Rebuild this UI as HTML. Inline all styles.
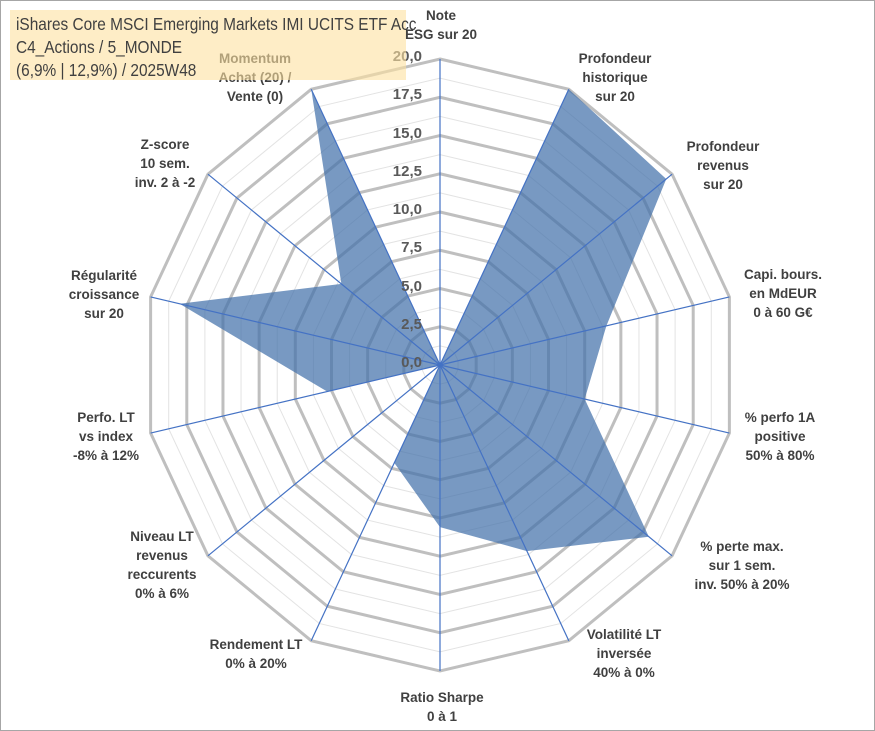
<!DOCTYPE html>
<html><head><meta charset="utf-8"><style>
body{margin:0;background:#fff;}
#wrap{position:relative;width:875px;height:731px;overflow:hidden;font-family:"Liberation Sans",sans-serif;}
.frame{position:absolute;left:0;top:0;width:873px;height:729px;border:1px solid #a6a6a6;}
.lbl{position:absolute;font-weight:bold;font-size:13.5px;color:#404040;text-align:center;line-height:19px;white-space:nowrap;transform:translateX(-50%);}
.tick{position:absolute;font-weight:bold;font-size:15px;color:#595959;text-align:right;width:50px;}
#title{position:absolute;left:10px;top:10px;width:396px;height:70px;background:rgba(253,225,160,0.6);}
#titletext{position:absolute;left:16px;top:13px;font-size:17.5px;color:#404040;line-height:23px;white-space:nowrap;transform:scaleX(0.88);transform-origin:0 0;}
</style></head><body>
<div id="wrap">
<div class="frame"></div>
<svg id="svg" width="875" height="731" style="position:absolute;left:0;top:0"></svg>
<div class="lbl" style="left:441px;top:6px">Note<br>ESG sur 20</div>
<div class="lbl" style="left:615px;top:49px">Profondeur<br>historique<br>sur 20</div>
<div class="lbl" style="left:723px;top:137px">Profondeur<br>revenus<br>sur 20</div>
<div class="lbl" style="left:783px;top:265px">Capi. bours.<br>en MdEUR<br>0 à 60 G€</div>
<div class="lbl" style="left:780px;top:408px">% perfo 1A<br>positive<br>50% à 80%</div>
<div class="lbl" style="left:742px;top:537px">% perte max.<br>sur 1 sem.<br>inv. 50% à 20%</div>
<div class="lbl" style="left:624px;top:625px">Volatilité LT<br>inversée<br>40% à 0%</div>
<div class="lbl" style="left:442px;top:688px">Ratio Sharpe<br>0 à 1</div>
<div class="lbl" style="left:256px;top:635px">Rendement LT<br>0% à 20%</div>
<div class="lbl" style="left:162px;top:527px">Niveau LT<br>revenus<br>reccurents<br>0% à 6%</div>
<div class="lbl" style="left:106px;top:408px">Perfo. LT<br>vs index<br>-8% à 12%</div>
<div class="lbl" style="left:104px;top:266px">Régularité<br>croissance<br>sur 20</div>
<div class="lbl" style="left:165px;top:135px">Z-score<br>10 sem.<br>inv. 2 à -2</div>
<div class="lbl" style="left:255px;top:49px">Momentum<br>Achat (20) /<br>Vente (0)</div>
<div id="ticks"></div>
<div id="title"></div>
<div id="titletext">iShares Core MSCI Emerging Markets IMI UCITS ETF Acc<br>C4_Actions / 5_MONDE<br>(6,9% | 12,9%) / 2025W48</div>
</div>
<script>
const categories=["Note ESG","Profondeur historique","Profondeur revenus","Capi","Perfo 1A","Perte max","Volatilité","Ratio Sharpe","Rendement LT","Niveau LT","Perfo LT","Régularité","Z-score","Momentum"];
const seriesValues=[0,20,19.5,11.5,10,18,13.5,10.6,7.1,0,7.8,18,8.5,20];
const tickValues=[0,2.5,5,7.5,10,12.5,15,17.5,20];
const tickLabels=["0,0","2,5","5,0","7,5","10,0","12,5","15,0","17,5","20,0"];
const CX=440,CY=365,R=306,MAX=20;
const svg=document.getElementById('svg');
const NS='http://www.w3.org/2000/svg';
const n=categories.length;
function pt(i,v){const a=i*2*Math.PI/n;const r=v/MAX*R;return [CX+0.97*r*Math.sin(a),CY-r*Math.cos(a)];}
function mk(tag,attrs){const e=document.createElementNS(NS,tag);for(const k in attrs)e.setAttribute(k,attrs[k]);svg.appendChild(e);return e;}
for(let v=1.25;v<MAX;v+=2.5){const p=[];for(let i=0;i<n;i++)p.push(pt(i,v).join(','));
const e=mk('polygon',{points:p.join(' '),fill:'none',stroke:'#e3e3e3','stroke-width':1});

}
tickValues.forEach(v=>{if(v===0)return;const p=[];for(let i=0;i<n;i++)p.push(pt(i,v).join(','));
const e=mk('polygon',{points:p.join(' '),fill:'none',stroke:'#bfbfbf','stroke-width':3});

});
const sp=seriesValues.map((v,i)=>pt(i,v).join(',')).join(' ');
const poly=mk('polygon',{points:sp,fill:'rgba(68,114,170,0.72)',stroke:'none'});


for(let i=0;i<n;i++){const q=pt(i,MAX);const l=mk('line',{x1:CX,y1:CY,x2:q[0],y2:q[1],stroke:'#4472c4','stroke-width':1.2});

}
const t=document.getElementById('ticks');
tickValues.forEach((v,k)=>{const d=document.createElement('div');d.className='tick';


d.textContent=tickLabels[k];d.style.left=(CX-68)+'px';d.style.top=(CY-v/MAX*R-11)+'px';t.appendChild(d);});
</script>
</body></html>
